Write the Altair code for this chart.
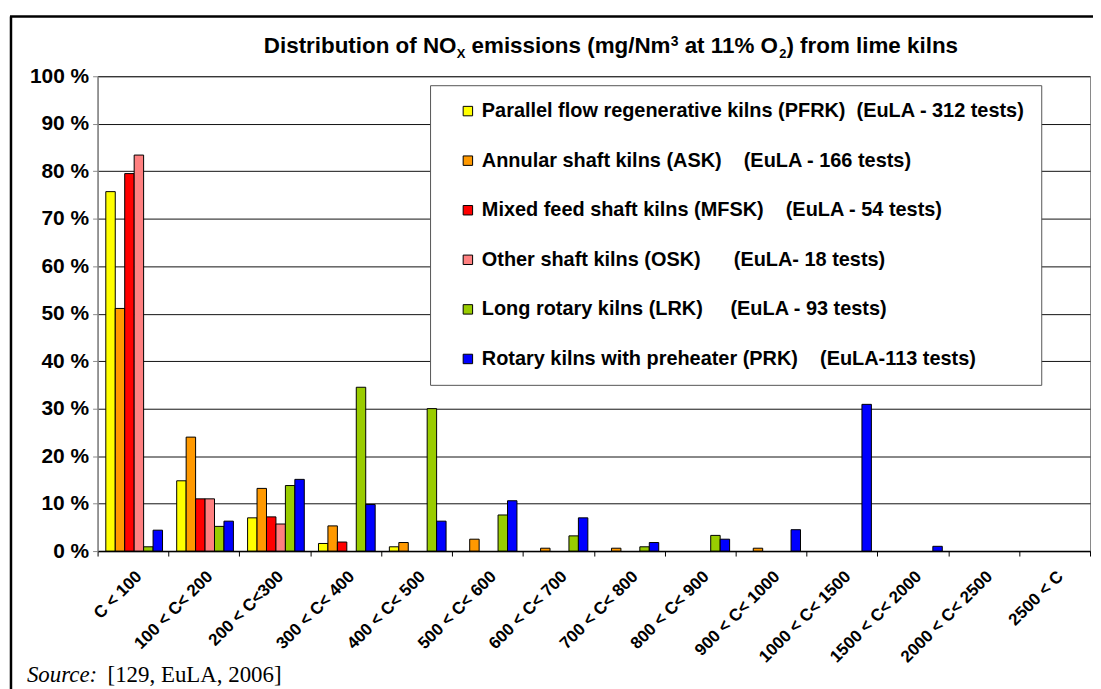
import altair as alt
import pandas as pd

# ---------------- data ----------------
categories = ["C < 100", "100 < C< 200", "200 < C<300", "300 < C< 400", "400 < C< 500",
              "500 < C< 600", "600 < C< 700", "700 < C< 800", "800 < C< 900", "900 < C< 1000",
              "1000 < C< 1500", "1500 < C< 2000", "2000 < C< 2500", "2500 < C"]

NB = "\u00a0"
series_labels = [
    "Parallel flow regenerative kilns (PFRK)" + NB * 2 + "(EuLA - 312 tests)",
    "Annular shaft kilns (ASK)" + NB * 4 + "(EuLA - 166 tests)",
    "Mixed feed shaft kilns (MFSK)" + NB * 4 + "(EuLA - 54 tests)",
    "Other shaft kilns (OSK)" + NB * 6 + "(EuLA- 18 tests)",
    "Long rotary kilns (LRK)" + NB * 5 + "(EuLA - 93 tests)",
    "Rotary kilns with preheater (PRK)" + NB * 4 + "(EuLA-113 tests)",
]
series_colors = ["#FFFF00", "#FF9900", "#FF0000", "#FF8080", "#99CC00", "#0000FF"]

pfrk = [75.7, 14.8, 7.0, 1.6, 0.9, 0, 0, 0, 0, 0, 0, 0, 0, 0]
ask = [51.1, 24.0, 13.2, 5.3, 1.8, 2.5, 0.6, 0.6, 0, 0.6, 0, 0, 0, 0]
mfsk = [79.5, 11.0, 7.2, 1.9, 0, 0, 0, 0, 0, 0, 0, 0, 0, 0]
osk = [83.4, 11.0, 5.7, 0, 0, 0, 0, 0, 0, 0, 0, 0, 0, 0]
lrk = [0.9, 5.2, 13.8, 34.5, 30.0, 7.6, 3.2, 0.9, 3.3, 0, 0, 0, 0, 0]
prk = [4.4, 6.3, 15.1, 9.8, 6.3, 10.6, 7.0, 1.8, 2.5, 4.5, 30.9, 1.0, 0, 0]

y_ticks = [0, 10, 20, 30, 40, 50, 60, 70, 80, 90, 100]

title_parts = [("Distribution of NO", "main"), ("X", "sub"), (" emissions (mg/Nm", "main"),
               ("3", "sup"), (" at 11% O", "main"), ("2", "sub"), (") from lime kilns", "main")]
source_italic = "Source:"
source_rest = "[129, EuLA, 2006]"

# ---------------- table ----------------
all_series = [pfrk, ask, mfsk, osk, lrk, prk]
rows = []
for lab, vals in zip(series_labels, all_series):
    for cat, v in zip(categories, vals):
        if v > 0:
            rows.append({"cat": cat, "series": lab, "value": v})
df = pd.DataFrame(rows)

FONT = "Liberation Sans"

bars = alt.Chart(df).mark_bar(stroke="black", strokeWidth=1).encode(
    x=alt.X("cat:N", sort=categories,
            scale=alt.Scale(domain=categories, paddingInner=0, paddingOuter=0),
            axis=alt.Axis(title=None, labelAngle=315, labelAlign="right", labelBaseline="top",
                          labelFont=FONT, labelFontWeight="bold", labelFontSize=17,
                          labelColor="black", labelPadding=12, labelOffset=0,
                          tickBand="extent", tickSize=5, tickColor="black",
                          domainColor="black", domainWidth=1.5, grid=False,
                          labelOverlap=False, labelLimit=300)),
    xOffset=alt.XOffset("series:N",
                        scale=alt.Scale(domain=series_labels, paddingOuter=0.75,
                                        paddingInner=0, align=0.58)),
    y=alt.Y("value:Q", scale=alt.Scale(domain=[0, 100], nice=False),
            axis=alt.Axis(title=None, values=y_ticks, labelExpr="datum.value + ' %'",
                          labelFont=FONT, labelFontWeight="bold", labelFontSize=21,
                          labelColor="black", labelPadding=4, tickSize=5,
                          tickColor="#888888", domainColor="#888888", domainWidth=1.5,
                          grid=True, gridColor="#111111", gridWidth=1)),
    color=alt.Color("series:N",
                    scale=alt.Scale(domain=series_labels, range=series_colors),
                    legend=alt.Legend(title=None, orient="none", legendX=334, legendY=9,
                                      direction="vertical", fillColor="white",
                                      strokeColor="#555555", padding=16, rowPadding=29.8,
                                      symbolType="square", symbolSize=90,
                                      symbolStrokeColor="black", symbolStrokeWidth=1,
                                      symbolOffset=12, labelOffset=4,
                                      labelFont=FONT, labelFontWeight="bold",
                                      labelFontSize=20, labelColor="black", labelLimit=700)),
)

# ---------------- title built from pieces (sub/superscripts) ----------------
AB = {" ": 278, "%": 889, "(": 333, ")": 333, "/": 278, "-": 333, "0": 556, "1": 556,
      "2": 556, "3": 556, "D": 722, "N": 722, "O": 778, "X": 667, "a": 556, "b": 611, "d": 611,
      "e": 556, "f": 333, "g": 611, "i": 278, "k": 556, "l": 278, "m": 889, "n": 611, "o": 611,
      "r": 389, "s": 556, "t": 333, "u": 611}
style = {"main": (22.5, 0), "sub": (13, 5), "sup": (14, -7)}
title_x0, title_base = 167, -23
layers = [bars]
cx = title_x0
for txt, kind in title_parts:
    size, dy = style[kind]
    stripped = txt.lstrip(" ")
    cx += (len(txt) - len(stripped)) * AB[" "] / 1000 * size
    layers.append(
        alt.Chart(pd.DataFrame({"t": [stripped]})).mark_text(
            align="left", baseline="alphabetic", font=FONT, fontWeight="bold",
            fontSize=size, color="black").encode(
            text="t:N", x=alt.value(cx), y=alt.value(title_base + dy)))
    cx += sum(AB.get(c, 556) for c in stripped) / 1000 * size

# source line
layers.append(alt.Chart(pd.DataFrame({"t": [source_italic]})).mark_text(
    align="left", baseline="alphabetic", font="Liberation Serif", fontStyle="italic",
    fontSize=23, color="black").encode(text="t:N", x=alt.value(-71), y=alt.value(609)))
layers.append(alt.Chart(pd.DataFrame({"t": [source_rest]})).mark_text(
    align="left", baseline="alphabetic", font="Liberation Serif",
    fontSize=23, color="black").encode(text="t:N", x=alt.value(10), y=alt.value(609)))

# outer frame
dummy = pd.DataFrame({"d": [0]})
layers.append(alt.Chart(dummy).mark_rule(color="black", strokeWidth=2.5).encode(
    x=alt.value(-87), y=alt.value(-60), y2=alt.value(620)))
layers.append(alt.Chart(dummy).mark_rule(color="black", strokeWidth=2.5).encode(
    x=alt.value(-88), x2=alt.value(1010), y=alt.value(-60)))

chart = alt.layer(*layers).properties(
    width=997, height=477,
    padding={"left": 90, "top": 67, "right": 3, "bottom": 137},
    autosize=alt.AutoSizeParams(type="none"),
    background="white",
).configure_view(stroke="#888888", strokeWidth=1)

chart.save("out.html", embed_options={"renderer": "svg", "actions": False})
